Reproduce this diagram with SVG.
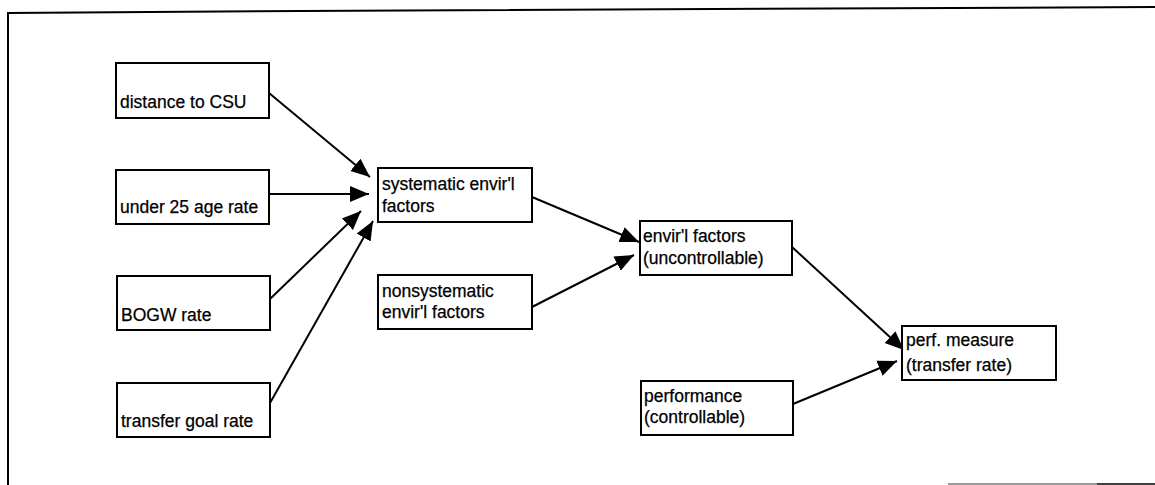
<svg xmlns="http://www.w3.org/2000/svg" width="1155" height="485" viewBox="0 0 1155 485">
<style>
.box{fill:#fff;stroke:#000;stroke-width:2}
.lbl{font-family:"Liberation Sans",Arial,sans-serif;font-size:17.5px;fill:#000;stroke:#000;stroke-width:0.25}
.con{stroke:#000;stroke-width:2;fill:none;marker-end:url(#ah)}
.frame{stroke:#000;stroke-width:2;fill:none}
</style>
<defs>
<marker id="ah" markerUnits="userSpaceOnUse" markerWidth="20" markerHeight="18" viewBox="0 0 20 18" refX="19" refY="9" orient="auto">
<path d="M0,1 L19,9 L0,17 Z" fill="#000"/>
</marker>
</defs>
<rect width="1155" height="485" fill="#fff"/>
<g id="frame">
<path class="frame" d="M8,485 L8,13 L300,11 L1155,7"/>
<line x1="948" y1="484" x2="1097" y2="484" stroke="#777" stroke-width="1.5"/>
<line x1="1097" y1="484" x2="1155" y2="484" stroke="#000" stroke-width="1.5"/>
</g>
<g id="connectors">
<line class="con" x1="269" y1="93" x2="370" y2="177"/>
<line class="con" x1="269" y1="194" x2="369" y2="194"/>
<line class="con" x1="270" y1="299" x2="361" y2="211"/>
<line class="con" x1="270" y1="403" x2="373" y2="221"/>
<line class="con" x1="532" y1="197" x2="639" y2="242"/>
<line class="con" x1="532" y1="307" x2="634" y2="255"/>
<line class="con" x1="792" y1="247" x2="904" y2="350"/>
<line class="con" x1="793" y1="404" x2="897" y2="361"/>
</g>
<g id="n-distance">
<rect class="box" x="116" y="63" width="153" height="55"/>
<text class="lbl" x="120" y="108">distance to CSU</text>
</g>
<g id="n-under25">
<rect class="box" x="116" y="170" width="153" height="54"/>
<text class="lbl" x="120" y="213">under 25 age rate</text>
</g>
<g id="n-bogw">
<rect class="box" x="117" y="276" width="153" height="54"/>
<text class="lbl" x="121" y="321">BOGW rate</text>
</g>
<g id="n-transfer-goal">
<rect class="box" x="117" y="383" width="153" height="54"/>
<text class="lbl" x="121" y="427">transfer goal rate</text>
</g>
<g id="n-systematic">
<rect class="box" x="378" y="168" width="154" height="54"/>
<text class="lbl" x="382" y="190">systematic envir'l</text>
<text class="lbl" x="382" y="212">factors</text>
</g>
<g id="n-nonsystematic">
<rect class="box" x="378" y="275" width="154" height="54"/>
<text class="lbl" x="382" y="297">nonsystematic</text>
<text class="lbl" x="382" y="318">envir'l factors</text>
</g>
<g id="n-envirl">
<rect class="box" x="640" y="221" width="152" height="54"/>
<text class="lbl" x="643" y="242">envir'l factors</text>
<text class="lbl" x="643" y="264">(uncontrollable)</text>
</g>
<g id="n-performance">
<rect class="box" x="641" y="381" width="152" height="54"/>
<text class="lbl" x="644" y="402">performance</text>
<text class="lbl" x="644" y="423">(controllable)</text>
</g>
<g id="n-perf-measure">
<rect class="box" x="902" y="326" width="154" height="54"/>
<text class="lbl" x="906" y="346">perf. measure</text>
<text class="lbl" x="906" y="371">(transfer rate)</text>
</g>
</svg>
